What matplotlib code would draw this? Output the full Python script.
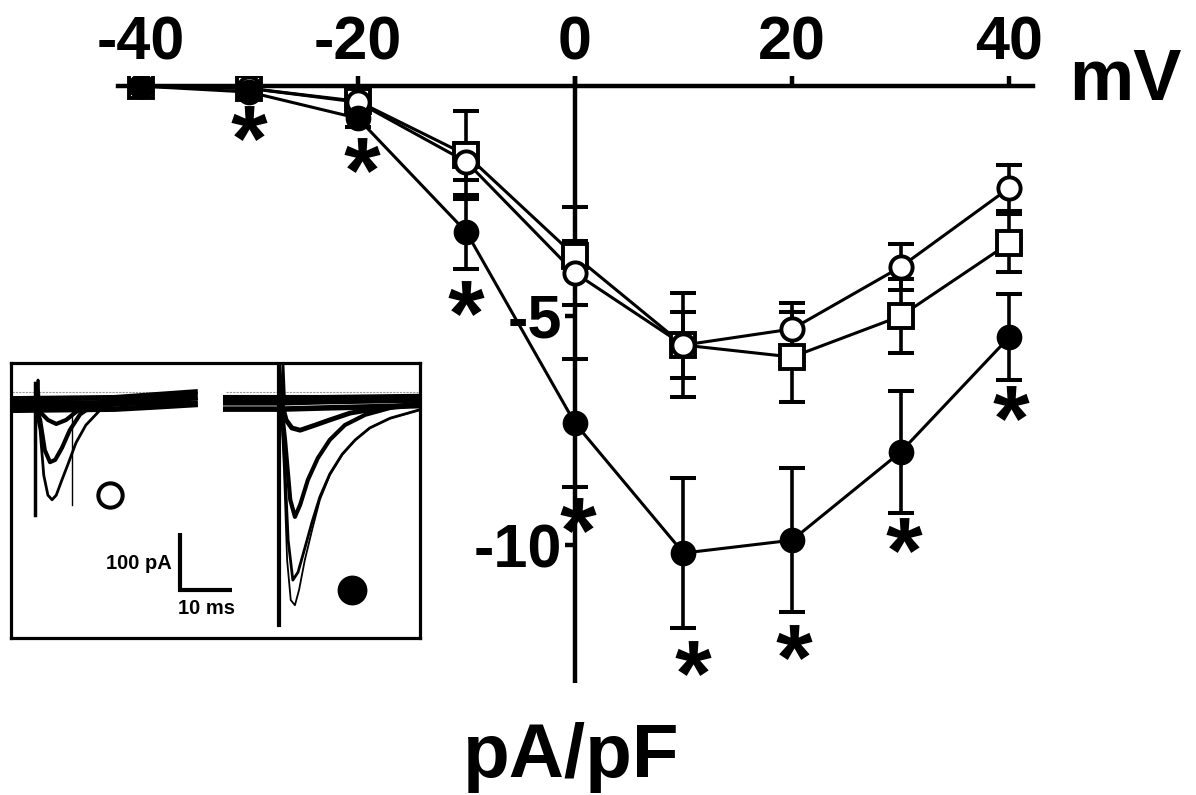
import matplotlib
matplotlib.use("Agg")
import matplotlib.pyplot as plt
from matplotlib.textpath import TextPath
from matplotlib.font_manager import FontProperties
from matplotlib.path import Path
import numpy as np

plt.rcParams['font.family'] = ['Liberation Sans', 'DejaVu Sans']
plt.rcParams['font.weight'] = 'bold'

# ---------------- data ----------------
voltages = [-40, -30, -20, -10, 0, 10, 20, 30, 40]

open_circle_mean = [0.0, -0.05, -0.35, -1.65, -4.07, -5.64, -5.29, -3.94, -2.22]
open_circle_sem = [0.05, 0.05, 0.1, 0.4, 0.7, 0.72, 0.57, 0.5, 0.5]

square_mean = [0.0, -0.05, -0.33, -1.5, -3.7, -5.64, -5.90, -5.01, -3.42]
square_sem = [0.05, 0.05, 0.1, 0.95, 1.07, 1.13, 0.98, 0.8, 0.63]

filled_mean = [0.0, -0.13, -0.70, -3.18, -7.34, -10.17, -9.89, -7.97, -5.47]
filled_sem = [0.05, 0.05, 0.2, 0.8, 1.4, 1.63, 1.57, 1.32, 0.94]

sig_v = [-30, -20, -10, 0, 10, 20, 30, 40]
sig_y = [-0.81, -1.5, -4.62, -9.35, -12.46, -12.11, -9.78, -6.9]
sig_dx = [0, 0.4, 0, 0.3, 0.9, 0.2, 0.3, 0.2]

xticks = [-40, -20, 0, 20, 40]
yticks = [-5, -10]
ytick_labels = ['-5', '-10']

# inset traces (ms, pA)
left_A_t = [0.2, 4.4, 5.6, 6.3, 7.1, 7.9, 8.7, 9.8, 10.9, 12.5, 14.4, 17.1, 21.0, 35.4]
left_A_i = [0, 0, -53, -132, -167, -175, -167, -140, -114, -75, -44, -18, -4, 4]
left_B_t = [0.2, 4.4, 5.6, 6.5, 7.5, 8.5, 9.8, 11.3, 13.3, 16.2, 19.0, 35.4]
left_B_i = [0, 0, -35, -88, -109, -105, -84, -53, -25, -7, 0, 6]
left_C_t = [0.2, 4.4, 5.6, 7.1, 8.7, 10.6, 12.5, 15.2, 19.0, 35.4]
left_C_i = [0, 0, -21, -35, -42, -35, -21, -7, 0, 10]
left_base1_t = [0.2, 15, 35.4]
left_base1_i = [-5, -5, -5]
left_base2_t = [0.2, 15, 25, 35.4]
left_base2_i = [-12, -10, -4, 4]
left_base3_t = [0.2, 20, 35.4]
left_base3_i = [2, 4, 14]
left_base4_t = [0.2, 20, 28, 35.4]
left_base4_i = [-18, -16, -12, -8]

right_R1_t = [41.3, 51.9, 52.5, 53.1, 53.8, 54.6, 55.4, 56.5, 57.9, 59.4, 61.3, 63.7, 66.2, 69.0, 72.9, 78.3]
right_R1_i = [-4, -4, -123, -281, -351, -360, -333, -281, -228, -175, -132, -96, -70, -49, -32, -18]
right_R2_t = [41.3, 51.9, 52.5, 53.3, 54.2, 55.2, 56.5, 57.9, 59.4, 61.3, 63.7, 66.2, 69.0, 72.9, 78.3]
right_R2_i = [-4, -4, -88, -246, -316, -302, -260, -214, -170, -130, -95, -70, -49, -32, -18]
right_R3_t = [41.3, 51.9, 52.7, 53.7, 54.6, 55.6, 57.1, 59.0, 61.3, 64.2, 68.1, 72.9, 78.3]
right_R3_i = [-2, -2, -70, -175, -205, -184, -140, -102, -70, -44, -26, -14, -9]
right_R4_t = [41.3, 51.9, 52.9, 54.0, 55.6, 58.5, 61.3, 65.2, 71.0, 78.3]
right_R4_i = [0, 0, -35, -49, -53, -44, -35, -23, -14, -7]
right_base_t = [41.3, 51.9, 60, 78.3]
right_base_i = [-5, -5, -3, 0]
right_base2_t = [41.3, 51.9, 60, 78.3]
right_base2_i = [-16, -16, -14, -10]
right_base3_t = [41.3, 51.9, 60, 78.3]
right_base3_i = [4, 4, 4, 6]

# ---------------- figure ----------------
W, H = 1196, 795
fig = plt.figure(figsize=(W / 100, H / 100), dpi=100)
ax = fig.add_axes([118 / W, 1 - 683 / H, (1033 - 118) / W, (683 - 76) / H])
ax.set_xlim(-42.1, 42.2)
ax.set_ylim(-13.0, 0.22)
ax.patch.set_alpha(0)

LW_AX = 3.2
for s in ['right', 'bottom']:
    ax.spines[s].set_visible(False)
ax.spines['left'].set_position(('data', 0))
ax.spines['top'].set_position(('data', 0))
ax.spines['left'].set_linewidth(LW_AX)
ax.spines['top'].set_linewidth(LW_AX)
ax.spines['left'].set_capstyle('butt')

ax.xaxis.tick_top()
ax.set_xticks(xticks)
ax.set_xticklabels([str(v) for v in xticks])
ax.tick_params(axis='x', direction='out', length=7.5, width=LW_AX, pad=2,
               labelsize=44)
ax.set_yticks(yticks)
ax.set_yticklabels(ytick_labels)
ax.tick_params(axis='y', direction='out', length=7.5, width=LW_AX, pad=2,
               labelsize=44)
for lab in ax.get_xticklabels() + ax.get_yticklabels():
    lab.set_fontweight('bold')

EW = 2.6
CS = 9.7
CT = 2.9
LWL = 2.2
MEW = 2.8

# error bars
for mean, sem, z in [(square_mean, square_sem, 2), (open_circle_mean, open_circle_sem, 2),
                     (filled_mean, filled_sem, 2)]:
    ax.errorbar(voltages, mean, yerr=sem, fmt='none', ecolor='black',
                elinewidth=EW, capsize=CS, capthick=CT, zorder=z)

# lines
ax.plot(voltages, square_mean, color='black', lw=LWL, zorder=3)
ax.plot(voltages, open_circle_mean, color='black', lw=LWL, zorder=3)
ax.plot(voltages, filled_mean, color='black', lw=LWL, zorder=3)

# markers
ax.plot(voltages, square_mean, ls='none', marker='s', ms=17, mfc='white',
        mec='black', mew=MEW, zorder=4)
ax.plot(voltages, open_circle_mean, ls='none', marker='o', ms=16, mfc='white',
        mec='black', mew=MEW, zorder=5)
ax.plot(voltages, filled_mean, ls='none', marker='o', ms=18.5, mfc='black',
        mec='black', mew=0, zorder=6)

# asterisk marker built from the bold glyph
tp = TextPath((0, 0), '*', size=10,
              prop=FontProperties(family='Liberation Sans', weight='bold'))
verts = tp.vertices.copy()
codes = tp.codes.copy()
start = 0
for k, c in enumerate(codes):
    if c == Path.MOVETO:
        start = k
    elif c == Path.CLOSEPOLY:
        verts[k] = verts[start]
x0, x1 = verts[:, 0].min(), verts[:, 0].max()
y0, y1 = verts[:, 1].min(), verts[:, 1].max()
verts[:, 0] -= (x0 + x1) / 2
verts[:, 1] -= (y0 + y1) / 2
star = Path(verts, codes)
ax.plot(np.array(sig_v) + np.array(sig_dx), sig_y, ls='none', marker=star,
        ms=26, mfc='black', mec='black', mew=0, zorder=7)

# axis names
fig.text(1125 / W, 1 - 100 / H, 'mV', ha='center', va='baseline',
         fontsize=52, fontweight='bold')
fig.text(571 / W, 1 - 777 / H, 'pA/pF', ha='center', va='baseline',
         fontsize=55, fontweight='bold')

# ---------------- inset ----------------
ix0, iy0, ix1, iy1 = 11, 363, 420, 638
ins = fig.add_axes([ix0 / W, 1 - iy1 / H, (ix1 - ix0) / W, (iy1 - iy0) / H])
ins.set_xlim(0, (ix1 - ix0) / 5.2)
ins.set_ylim(-(iy1 - 400) / 0.57, (400 - iy0) / 0.57)
ins.set_xticks([])
ins.set_yticks([])
ins.patch.set_facecolor('white')
for s in ins.spines.values():
    s.set_linewidth(2.3)

# gray reference baselines
ins.plot([0.2, 35.4], [14, 14], color='#999999', lw=0.8, ls=(0, (2, 1)))
ins.plot([41.3, 78.3], [14, 14], color='#999999', lw=0.8, ls=(0, (2, 1)))

TR = 2.0
NB = 4.0
for bt, bi in [(left_base1_t, left_base1_i), (left_base2_t, left_base2_i),
               (left_base3_t, left_base3_i), (left_base4_t, left_base4_i)]:
    ins.plot(bt, bi, color='black', lw=NB)
ins.plot(left_A_t, left_A_i, color='black', lw=TR)
ins.plot(left_B_t, left_B_i, color='black', lw=TR + 1)
ins.plot(left_C_t, left_C_i, color='black', lw=TR + 1)
ins.plot([4.6, 4.6], [30, -202], color='black', lw=2.5)
ins.plot([5.0, 5.2, 5.4], [0, 35, 0], color='black', lw=2)
ins.plot([11.7, 11.7], [0, -184], color='black', lw=1)

for bt, bi in [(right_base_t, right_base_i), (right_base2_t, right_base2_i),
               (right_base3_t, right_base3_i)]:
    ins.plot(bt, bi, color='black', lw=NB)
ins.plot(right_R1_t, right_R1_i, color='black', lw=1.3)
ins.plot(right_R2_t, right_R2_i, color='black', lw=TR)
ins.plot(right_R3_t, right_R3_i, color='black', lw=TR + 1)
ins.plot(right_R4_t, right_R4_i, color='black', lw=TR + 1.5)
ins.plot([51.5, 51.5], [65, -395], color='black', lw=3)
ins.plot([52.0, 52.3, 52.6], [0, 65, 0], color='black', lw=2)

# condition markers
ins.plot([(110 - ix0) / 5.2], [(400 - 495) / 0.57], ls='none', marker='o', ms=17.5,
         mfc='white', mec='black', mew=2.9)
ins.plot([(352 - ix0) / 5.2], [(400 - 590) / 0.57], ls='none', marker='o', ms=21.5,
         mfc='black', mec='black', mew=0)

# scale bar: 100 pA, 10 ms
sb_t0 = (180 - ix0) / 5.2
sb_i0 = (400 - 590) / 0.57
ins.plot([sb_t0, sb_t0, sb_t0 + 10], [sb_i0 + 100, sb_i0, sb_i0], color='black',
         lw=3, solid_joinstyle='miter', solid_capstyle='butt')
ins.text(sb_t0 - 1.6, sb_i0 + 47, '100 pA', ha='right', va='center', fontsize=14.5,
         fontweight='bold')
ins.text(sb_t0 + 5, sb_i0 - 32, '10 ms', ha='center', va='center', fontsize=14.5,
         fontweight='bold')

fig.savefig('out.png', dpi=100)
